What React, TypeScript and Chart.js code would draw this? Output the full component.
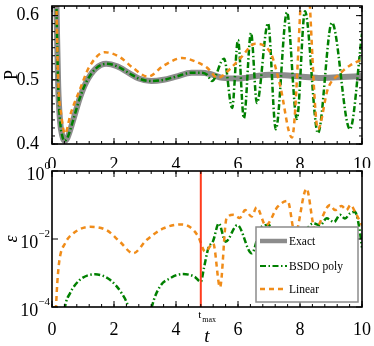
import React, { useEffect, useRef } from "react";
import { Chart, registerables } from "chart.js";

Chart.register(...registerables);

const SERIF = "'Liberation Serif', 'Times New Roman', serif";

// ---------- top panel: P(t) ----------
const tExact = [0, 0.1, 0.15, 0.2, 0.26, 0.33, 0.4, 0.5, 0.7, 0.9, 1.1, 1.4, 1.75, 2.1, 2.5, 2.8, 3.2, 3.6, 4.0, 4.5, 4.8, 5.1, 5.5, 6.0, 6.5, 7.0, 7.5, 8.0, 8.6, 9.2, 10];
const pExact = [1.0, 0.72, 0.6, 0.49, 0.436, 0.413, 0.405, 0.41, 0.44, 0.472, 0.496, 0.517, 0.525, 0.521, 0.51, 0.502, 0.498, 0.5, 0.505, 0.511, 0.511, 0.509, 0.503, 0.502, 0.505, 0.508, 0.507, 0.505, 0.503, 0.504, 0.506];

const tBsdo = [0, 0.1, 0.15, 0.2, 0.26, 0.33, 0.4, 0.5, 0.7, 0.9, 1.1, 1.4, 1.75, 2.1, 2.5, 2.8, 3.2, 3.6, 4.0, 4.5, 4.8, 5.0, 5.16, 5.55, 5.81, 6.0, 6.19, 6.42, 6.61, 6.97, 7.22, 7.58, 7.9, 8.16, 8.58, 9.03, 9.61, 10];
const pBsdo = [1.0, 0.72, 0.6, 0.49, 0.436, 0.413, 0.405, 0.41, 0.44, 0.472, 0.496, 0.517, 0.525, 0.521, 0.51, 0.502, 0.498, 0.5, 0.505, 0.511, 0.511, 0.508, 0.498, 0.533, 0.456, 0.562, 0.44, 0.573, 0.464, 0.588, 0.423, 0.605, 0.439, 0.607, 0.417, 0.589, 0.423, 0.572];

const tLinear = [0, 0.1, 0.15, 0.2, 0.3, 0.42, 0.6, 0.9, 1.2, 1.7, 2.2, 2.6, 3.1, 3.6, 4.2, 4.6, 5.0, 5.35, 5.7, 6.1, 6.55, 7.05, 7.35, 7.74, 8.17, 8.58, 8.9, 9.3, 9.6, 10];
const pLinear = [1.0, 0.72, 0.6, 0.5, 0.445, 0.416, 0.447, 0.485, 0.52, 0.543, 0.535, 0.519, 0.505, 0.522, 0.534, 0.529, 0.519, 0.503, 0.515, 0.535, 0.556, 0.542, 0.493, 0.41, 0.7, 0.423, 0.486, 0.51, 0.522, 0.532];

// ---------- bottom panel: error (log10 exponents) ----------
const tErrBsdo = [0, 0.3, 0.42, 0.58, 0.9, 1.39, 1.87, 2.25, 2.46, 2.6, 2.85, 3.1, 3.22, 3.48, 3.8, 4.2, 4.6, 4.8, 4.9, 5.04, 5.2, 5.38, 5.6, 5.98, 6.44, 6.76, 6.98, 7.3, 7.6, 8.0, 8.43, 8.65, 8.86, 9.1, 9.29, 9.45, 9.61, 9.77, 9.9, 10];
const logErrBsdo = [-7, -5, -4, -3.6, -3.2, -3.04, -3.2, -3.6, -4, -4.6, -6, -4.6, -4, -3.4, -3.16, -3.03, -3.11, -3.26, -2.86, -2.28, -2.05, -1.54, -2.08, -1.59, -2.42, -1.64, -1.59, -1.9, -1.75, -1.9, -1.54, -1.6, -1.39, -1.5, -1.29, -1.4, -1.25, -1.2, -1.6, -2.25];

const tErrLinear = [0, 0.08, 0.13, 0.17, 0.24, 0.42, 0.69, 1.23, 1.76, 2.19, 2.62, 3.05, 3.59, 4.18, 4.45, 4.72, 4.94, 5.2, 5.42, 5.63, 5.85, 6.06, 6.23, 6.44, 6.6, 6.9, 7.28, 7.6, 7.84, 8.21, 8.48, 8.97, 9.13, 9.34, 9.5, 9.63, 9.8, 10];
const logErrLinear = [-7, -5, -4, -3.3, -2.62, -2.13, -1.83, -1.64, -1.74, -2.08, -2.42, -2.03, -1.69, -1.57, -1.65, -1.93, -2.37, -2.13, -3.42, -1.39, -1.29, -1.38, -1.15, -1.34, -1.07, -1.6, -1.05, -0.88, -1.85, -0.52, -1.7, -1.0, -1.15, -1.03, -1.15, -1.0, -1.25, -1.6];

// ---------- ticks / labels ----------
const xMajorTicks = [0, 2, 4, 6, 8, 10];
const pMajorTicks = [0.4, 0.5, 0.6];
const errMajorTicks = [1e-4, 1e-2, 1];
const tMax = 4.8;
const seriesNames = ["Exact", "BSDO poly", "Linear"];

const STYLES = [
  { color: "rgb(140,140,140)", width: 6, dash: [] as number[], legendWidth: 4.5 },
  { color: "rgb(0,128,0)", width: 2.5, dash: [6, 2.5, 1.5, 2.5], legendWidth: 2 },
  { color: "rgb(240,140,25)", width: 2.5, dash: [5, 4], legendWidth: 2.5 },
];

const pts = (ts: number[], vs: number[]) => ts.map((t, i) => ({ x: t, y: vs[i] }));
const pow10 = (vs: number[]) => vs.map((v) => Math.pow(10, v));

const xMinorTicks: number[] = [];
for (let v = 0; v <= 10.001; v += 0.4) xMinorTicks.push(v);
const pMinorTicks: number[] = [];
for (let v = 0.4; v <= 0.615; v += 0.0125) pMinorTicks.push(v);

function ds(label: string, data: any[], s: any, order: number) {
  return {
    label,
    data,
    borderColor: s.color,
    borderWidth: s.width,
    borderDash: s.dash,
    pointRadius: 0,
    fill: false,
    clip: 0,
    order,
    cubicInterpolationMode: "monotone",
  };
}

function framePlugin(o: any) {
  return {
    id: "frame",
    afterDatasetsDraw(chart: any) {
      const { ctx, chartArea: a, scales } = chart;
      const xs = scales.x;
      const ys = scales.y;
      ctx.save();
      if (o.before) o.before(chart);
      ctx.setLineDash([]);
      ctx.strokeStyle = "#000";
      ctx.lineWidth = 1;
      ctx.beginPath();
      const xt = (v: number, len: number) => {
        const p = xs.getPixelForValue(v);
        ctx.moveTo(p, a.bottom);
        ctx.lineTo(p, a.bottom - len);
        ctx.moveTo(p, a.top);
        ctx.lineTo(p, a.top + len);
      };
      const yt = (v: number, len: number) => {
        const p = ys.getPixelForValue(v);
        ctx.moveTo(a.left, p);
        ctx.lineTo(a.left + len, p);
        ctx.moveTo(a.right, p);
        ctx.lineTo(a.right - len, p);
      };
      o.xMajor.forEach((v: number) => xt(v, 6));
      o.xMinor.forEach((v: number) => xt(v, 3));
      o.yMajor.forEach((v: number) => yt(v, 6));
      o.yMinor.forEach((v: number) => yt(v, 3));
      ctx.stroke();
      ctx.lineWidth = 1.6;
      ctx.strokeRect(a.left, a.top, a.right - a.left, a.bottom - a.top);
      if (o.after) o.after(chart);
      ctx.restore();
    },
  };
}

const tickFont = { family: SERIF, size: 18 };

function topConfig(): any {
  return {
    type: "line",
    data: {
      datasets: [
        ds(seriesNames[0], pts(tExact, pExact), STYLES[0], 3),
        ds(seriesNames[1], pts(tBsdo, pBsdo), STYLES[1], 2),
        ds(seriesNames[2], pts(tLinear, pLinear), STYLES[2], 1),
      ],
    },
    options: {
      responsive: false,
      animation: false,
      devicePixelRatio: 1,
      events: [],
      layout: { padding: { left: 0, right: 12, top: 6, bottom: 0 } },
      plugins: { legend: { display: false }, tooltip: { enabled: false } },
      scales: {
        x: {
          type: "linear",
          min: 0,
          max: 10,
          grid: { display: false },
          border: { display: false },
          afterBuildTicks: (s: any) => {
            s.ticks = xMajorTicks.map((v) => ({ value: v }));
          },
          ticks: { font: tickFont, color: "#000", padding: 2, maxRotation: 0, autoSkip: false, callback: (v: any) => String(v) },
          afterFit: (s: any) => {
            s.height = 24;
            s.paddingLeft = 0;
            s.paddingRight = 0;
          },
        },
        y: {
          type: "linear",
          min: 0.4,
          max: 0.615,
          grid: { display: false },
          border: { display: false },
          afterBuildTicks: (s: any) => {
            s.ticks = pMajorTicks.map((v) => ({ value: v }));
          },
          ticks: { font: tickFont, color: "#000", padding: 5, callback: (v: any) => Number(v).toFixed(1) },
          title: { display: true, text: "P", color: "#000", font: { family: SERIF, size: 18, lineHeight: 1 }, padding: { top: 3, bottom: 0 } },
          afterFit: (s: any) => {
            s.width = 52;
            s.paddingTop = 0;
            s.paddingBottom = 0;
          },
        },
      },
    },
    plugins: [framePlugin({ xMajor: xMajorTicks, xMinor: xMinorTicks, yMajor: pMajorTicks, yMinor: pMinorTicks })],
  };
}

function botConfig(): any {
  const before = (chart: any) => {
    const { ctx, chartArea: a, scales } = chart;
    const px = scales.x.getPixelForValue(tMax);
    ctx.strokeStyle = "rgb(255,60,30)";
    ctx.lineWidth = 2;
    ctx.beginPath();
    ctx.moveTo(px, a.top);
    ctx.lineTo(px, a.bottom);
    ctx.stroke();
  };
  const after = (chart: any) => {
    const { ctx, chartArea: a, scales } = chart;
    const xs = scales.x;
    const ys = scales.y;
    // t_max label
    const px = xs.getPixelForValue(tMax);
    ctx.fillStyle = "#000";
    ctx.textBaseline = "alphabetic";
    ctx.font = `11px ${SERIF}`;
    ctx.textAlign = "center";
    ctx.fillText("t", px - 1, a.bottom + 11);
    ctx.font = `8px ${SERIF}`;
    ctx.textAlign = "left";
    ctx.fillText("max", px + 1.5, a.bottom + 15);
    // log tick labels
    errMajorTicks.forEach((v) => {
      const p = ys.getPixelForValue(v);
      const e = Math.round(Math.log10(v));
      const sup = e === 0 ? "0" : "\u2212" + String(-e);
      ctx.font = `11px ${SERIF}`;
      const sw = ctx.measureText(sup).width;
      ctx.textAlign = "left";
      ctx.fillText(sup, 50 - sw, p - 2);
      ctx.font = `18px ${SERIF}`;
      ctx.textAlign = "right";
      ctx.fillText("10", 50 - sw, p + 9);
    });
    // legend
    const L = a.right - 106;
    const T = a.top + 56;
    const R = a.right - 4;
    const B = a.bottom - 5;
    ctx.fillStyle = "#fff";
    ctx.fillRect(L, T, R - L, B - T);
    ctx.strokeStyle = "#8c8c8c";
    ctx.lineWidth = 1.5;
    ctx.strokeRect(L, T, R - L, B - T);
    const rows = [T + 14, T + 39, T + 62];
    seriesNames.forEach((name, i) => {
      const s = STYLES[i];
      ctx.setLineDash(s.dash);
      ctx.strokeStyle = s.color;
      ctx.lineWidth = s.legendWidth;
      ctx.beginPath();
      ctx.moveTo(L + 4, rows[i]);
      ctx.lineTo(L + 31, rows[i]);
      ctx.stroke();
      ctx.setLineDash([]);
      ctx.fillStyle = "#000";
      ctx.font = `11.5px ${SERIF}`;
      ctx.textAlign = "left";
      ctx.textBaseline = "middle";
      ctx.fillText(name, L + 33, rows[i] + 1);
    });
  };
  return {
    type: "line",
    data: {
      datasets: [
        ds(seriesNames[1], pts(tErrBsdo, pow10(logErrBsdo)), STYLES[1], 2),
        ds(seriesNames[2], pts(tErrLinear, pow10(logErrLinear)), STYLES[2], 1),
      ],
    },
    options: {
      responsive: false,
      animation: false,
      devicePixelRatio: 1,
      events: [],
      layout: { padding: { left: 0, right: 12, top: 21, bottom: 0 } },
      plugins: { legend: { display: false }, tooltip: { enabled: false } },
      scales: {
        x: {
          type: "linear",
          min: 0,
          max: 10,
          grid: { display: false },
          border: { display: false },
          afterBuildTicks: (s: any) => {
            s.ticks = xMajorTicks.map((v) => ({ value: v }));
          },
          ticks: { font: tickFont, color: "#000", padding: 4, maxRotation: 0, autoSkip: false, callback: (v: any) => String(v) },
          title: { display: true, text: "t", color: "#000", font: { family: SERIF, size: 19, style: "italic", lineHeight: 1 }, padding: { top: 0, bottom: 0 } },
          afterFit: (s: any) => {
            s.height = 39;
            s.paddingLeft = 0;
            s.paddingRight = 0;
          },
        },
        y: {
          type: "logarithmic",
          min: 1e-4,
          max: 1,
          grid: { display: false },
          border: { display: false },
          afterBuildTicks: (s: any) => {
            s.ticks = errMajorTicks.map((v) => ({ value: v }));
          },
          ticks: { display: false },
          title: { display: true, text: "\u03B5", color: "#000", font: { family: SERIF, size: 18, style: "italic", lineHeight: 1 }, padding: { top: 3, bottom: 0 } },
          afterFit: (s: any) => {
            s.width = 52;
            s.paddingTop = 0;
            s.paddingBottom = 0;
          },
        },
      },
    },
    plugins: [framePlugin({ xMajor: xMajorTicks, xMinor: xMinorTicks, yMajor: errMajorTicks, yMinor: [], before, after })],
  };
}

export default function App() {
  const topRef = useRef<HTMLCanvasElement>(null);
  const botRef = useRef<HTMLCanvasElement>(null);
  useEffect(() => {
    const c1 = new Chart(topRef.current as HTMLCanvasElement, topConfig());
    const c2 = new Chart(botRef.current as HTMLCanvasElement, botConfig());
    return () => {
      c1.destroy();
      c2.destroy();
    };
  }, []);
  return (
    <div style={{ position: "absolute", left: 0, top: 0, width: 374, height: 346, background: "#fff", overflow: "hidden" }}>
      <canvas ref={topRef} width={374} height={168} style={{ position: "absolute", left: 0, top: 0 }} />
      <canvas ref={botRef} width={374} height={196} style={{ position: "absolute", left: 0, top: 150 }} />
    </div>
  );
}
